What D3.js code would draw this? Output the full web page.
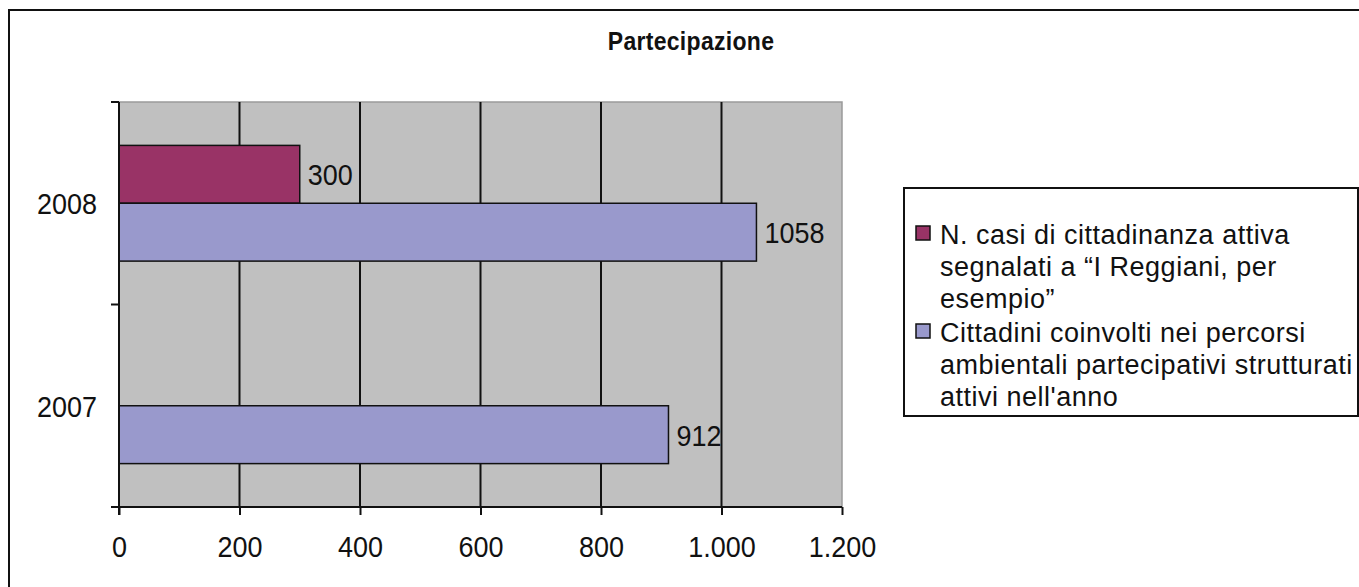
<!DOCTYPE html>
<html>
<head>
<meta charset="utf-8">
<script src="https://cdn.jsdelivr.net/npm/d3@7"></script>
<style>
  html, body { margin: 0; padding: 0; background: #ffffff; }
  svg { display: block; font-family: "Liberation Sans", Arial, sans-serif; }
</style>
</head>
<body>
<svg id="chart" width="1359" height="587"></svg>
<script>
// ---- data ----
const categories = ["2008", "2007"];
const seriesNames = [
  ["N. casi di cittadinanza attiva", "segnalati a \u201cI Reggiani, per", "esempio\u201d"],
  ["Cittadini coinvolti nei percorsi", "ambientali partecipativi strutturati", "attivi nell'anno"]
];
const casiValues = [300, null];        // 2008, 2007
const cittadiniValues = [1058, 912];   // 2008, 2007
const xTicks = [0, 200, 400, 600, 800, 1000, 1200];
const xTickLabels = ["0", "200", "400", "600", "800", "1.000", "1.200"];
const title = "Partecipazione";

// ---- layout ----
const colors = ["#993366", "#9999CC"];
const SY = 1.12; // vertical stretch of glyphs seen in the reference
const svg = d3.select("#chart");
const plot = { left: 119, top: 102, right: 842, bottom: 507 };

function stretched(sel, xx, yy) {
  return sel.attr("x", 0).attr("y", 0).attr("transform", `translate(${xx},${yy}) scale(1,${SY})`);
}

// outer chart border
svg.append("rect").attr("x", 9).attr("y", 10).attr("width", 1400).attr("height", 700)
  .attr("fill", "#fff").attr("stroke", "#111").attr("stroke-width", 2);

// title
stretched(svg.append("text"), 691, 50).attr("text-anchor", "middle")
  .attr("font-size", 23).attr("font-weight", "bold").attr("fill", "#111")
  .attr("letter-spacing", 0.3).text(title);

const x = d3.scaleLinear().domain([0, 1200]).range([plot.left, plot.right]);
const y = d3.scaleBand().domain(categories).range([plot.top, plot.bottom]).paddingInner(0).paddingOuter(0);

// plot background
svg.append("rect").attr("x", plot.left).attr("y", plot.top)
  .attr("width", plot.right - plot.left).attr("height", plot.bottom - plot.top)
  .attr("fill", "#C0C0C0").attr("stroke", "#9a9a9a").attr("stroke-width", 1.5);

// vertical gridlines
svg.append("g").selectAll("line").data(xTicks.filter(d => d > 0 && d < 1200)).join("line")
  .attr("x1", d => x(d)).attr("x2", d => x(d))
  .attr("y1", plot.top).attr("y2", plot.bottom)
  .attr("stroke", "#111").attr("stroke-width", 2);

// bars: group of two within each band, gap width 150%
const band = y.bandwidth();
const barH = band / (2 + 1.5);
const groupOff = (band - 2 * barH) / 2;
const series = [casiValues, cittadiniValues];
series.forEach((vals, si) => {
  const g = svg.append("g");
  categories.forEach((c, ci) => {
    const v = vals[ci];
    if (v == null) return;
    const yy = y(c) + groupOff + si * barH;
    g.append("rect").attr("x", x(0)).attr("y", yy)
      .attr("width", x(v) - x(0)).attr("height", barH)
      .attr("fill", colors[si]).attr("stroke", "#111").attr("stroke-width", 1.5);
    stretched(g.append("text"), x(v) + 8, yy + barH / 2 + 11)
      .attr("font-size", 27).attr("fill", "#111").text(String(v));
  });
});

// x axis
const xAxis = d3.axisBottom(x).tickValues(xTicks)
  .tickFormat((d, i) => xTickLabels[i]).tickSize(8).tickSizeOuter(0);
const gx = svg.append("g").attr("transform", `translate(0,${plot.bottom})`).call(xAxis);
gx.select(".domain").attr("stroke", "#111").attr("stroke-width", 2)
  .attr("d", `M${plot.left - 8},0H${plot.right}`);
gx.selectAll(".tick line").attr("stroke", "#111").attr("stroke-width", 2);
gx.selectAll(".tick text").attr("font-size", 27).attr("fill", "#111")
  .attr("y", 0).attr("dy", null)
  .attr("transform", `translate(0,50) scale(1,${SY})`)
  .attr("font-family", "'Liberation Sans', Arial, sans-serif");

// y axis: ticks at band boundaries, labels at band centers
const yEdges = [plot.top, y(categories[1]), plot.bottom];
const gy = svg.append("g");
gy.append("line").attr("x1", plot.left).attr("x2", plot.left)
  .attr("y1", plot.top).attr("y2", plot.bottom + 8).attr("stroke", "#111").attr("stroke-width", 2);
gy.selectAll("line.tk").data(yEdges).join("line").attr("class", "tk")
  .attr("x1", plot.left - 8).attr("x2", plot.left).attr("y1", d => d).attr("y2", d => d)
  .attr("stroke", "#111").attr("stroke-width", 2);
gy.selectAll("text").data(categories).join("text")
  .attr("x", 0).attr("y", 0)
  .attr("transform", d => `translate(97,${y(d) + band / 2 + 11}) scale(1,${SY})`)
  .attr("text-anchor", "end").attr("font-size", 27).attr("fill", "#111").text(d => d);

// legend
const lg = svg.append("g");
lg.append("rect").attr("x", 904).attr("y", 188).attr("width", 454).attr("height", 228)
  .attr("fill", "#fff").attr("stroke", "#111").attr("stroke-width", 2);
const lineH = 32;
const firstBase = [244, 342];
seriesNames.forEach((lines, si) => {
  lg.append("rect").attr("x", 916).attr("y", firstBase[si] - 18).attr("width", 14).attr("height", 14)
    .attr("fill", colors[si]).attr("stroke", "#111").attr("stroke-width", 1.5);
  lines.forEach((t, li) => {
    lg.append("text").attr("x", 940).attr("y", firstBase[si] + li * lineH)
      .attr("font-size", 27).attr("letter-spacing", 0.5).attr("fill", "#111").text(t);
  });
});
</script>
</body>
</html>
